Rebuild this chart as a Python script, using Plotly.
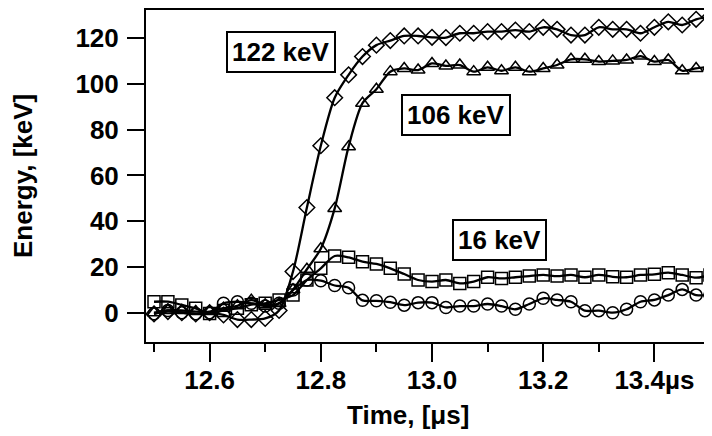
import numpy as np
import plotly.graph_objects as go

# Temps (µs), un point tous les 0.025 µs
time_us = np.round(12.5 + 0.025 * np.arange(41), 3)

# Energie mesurée pour chaque raie (keV)
e_122 = [-0.5, 0.5, 0, -0.5, 0, -1, -3, -3, -2.5, 1,
         18, 46, 73, 94, 104, 112, 117, 119, 121, 121,
         120.4, 120.3, 122.2, 122.2, 122.9, 122.9, 123.6, 122.9, 124.8, 123.9,
         121.4, 121.4, 124.8, 123.9, 123.9, 122.2, 124.8, 127.2, 125.8, 128.3,
         129.4]
e_106 = [0, 1, 1, 0.5, 0.5, 2, 3, 5.5, 3.5, 4,
         10, 19, 28, 45.6, 72.6, 91.6, 97.7, 105.4, 106.8, 106.1,
         109, 107.9, 108.3, 105.4, 107.3, 105.8, 107.3, 105.4, 106.8, 108.3,
         110.8, 110.8, 109.8, 110.1, 110.5, 112.2, 109.8, 110.5, 105.8, 106.8,
         107.6]
e_16 = [4.8, 4.8, 3.4, 1.9, -0.3, 1, 2, 3.5, 4.1, 5.6,
        7.7, 14.3, 19.4, 24.8, 24.2, 22.3, 21.3, 19.4, 16.9, 14.3,
        13.6, 14.3, 12.8, 13.6, 15.5, 15.0, 15.5, 16.0, 16.5, 16.0,
        16.5, 15.5, 16.5, 15.7, 15.5, 16.5, 16.8, 17.5, 16.5, 15.3,
        16.5]
e_low = [-0.5, 1, 0, -0.5, 0, 4.1, 4.8, 4.1, 2.9, 4.1,
         9.9, 14.3, 14, 11.9, 10.9, 5.4, 5.2, 4.6, 3.3, 4.4,
         4.4, 2.3, 2.9, 2.9, 3.8, 2.9, 1.5, 3.8, 6.3, 5.6,
         4.8, 0.9, 0.9, 0, 1.5, 4.8, 5.6, 7.7, 10.2, 7.7,
         7.7]

labels = ["122 keV", "106 keV", "16 keV"]
label_x = [12.729, 13.043, 13.121]
label_y = [114.1, 86.4, 31.8]

x_major = [12.6, 12.8, 13.0, 13.2, 13.4]
x_major_text = ["12.6", "12.8", "13.0", "13.2", "13.4µs"]
x_minor = [12.5, 12.7, 12.9, 13.1, 13.3, 13.5]
y_ticks = [0, 20, 40, 60, 80, 100, 120]

FONT = "Arial, Liberation Sans, sans-serif"

fig = go.Figure()

series = [
    (e_low, "circle-open", 12),
    (e_16, "square-open", 12),
    (e_106, "triangle-up-open", 12),
    (e_122, "diamond-open", 12),
]
for ys, sym, sz in series:
    fig.add_trace(go.Scatter(
        x=time_us, y=ys,
        mode="lines+markers",
        line=dict(color="black", width=2.3, shape="spline", smoothing=0.8),
        marker=dict(symbol=sym, size=sz, color="black", line=dict(width=1.5, color="black")),
        showlegend=False,
    ))

# Etiquettes encadrées
for txt, ax_, ay_ in zip(labels, label_x, label_y):
    fig.add_annotation(
        x=ax_, y=ay_, text=txt, showarrow=False,
        font=dict(family=FONT, size=26, color="black", weight="bold"),
        bgcolor="white", bordercolor="black", borderwidth=2, borderpad=4,
    )

# Titres des axes
fig.add_annotation(
    xref="paper", yref="paper", x=-0.2173, y=0.5,
    xanchor="center", yanchor="middle",
    text="Energy, [keV]", textangle=-90, showarrow=False,
    font=dict(family=FONT, size=26, color="black", weight="bold"),
)
fig.add_annotation(
    xref="paper", yref="paper", x=0.4629, y=-0.2199,
    xanchor="center", yanchor="middle",
    text="Time, [μs]", showarrow=False,
    font=dict(family=FONT, size=26, color="black", weight="bold"),
)

# la page ajoute une marge de 8 px autour de la figure
fig.update_layout(
    width=704, height=428,
    margin=dict(l=138, r=0, t=2, b=94),
    plot_bgcolor="white", paper_bgcolor="white",
    xaxis=dict(
        range=[12.4856, 13.5036], automargin=False,
        showgrid=False, zeroline=False,
        showline=True, linecolor="black", linewidth=2, mirror=True,
        ticks="outside", ticklen=18, tickwidth=2, tickcolor="black",
        tickmode="array", tickvals=x_major, ticktext=x_major_text,
        ticklabelstandoff=-4,
        minor=dict(tickmode="array", tickvals=x_minor, ticks="outside",
                   ticklen=8, tickwidth=2, tickcolor="black", showgrid=False),
        tickfont=dict(family=FONT, size=26, color="black", weight="bold"),
    ),
    yaxis=dict(
        range=[-12.81, 132.36], automargin=False,
        showgrid=False, zeroline=False,
        showline=True, linecolor="black", linewidth=2, mirror=False,
        ticks="outside", ticklen=17, tickwidth=2, tickcolor="black",
        tickmode="array", tickvals=y_ticks,
        ticklabelstandoff=3,
        tickfont=dict(family=FONT, size=26, color="black", weight="bold"),
    ),
)

fig.write_html("out.html")
